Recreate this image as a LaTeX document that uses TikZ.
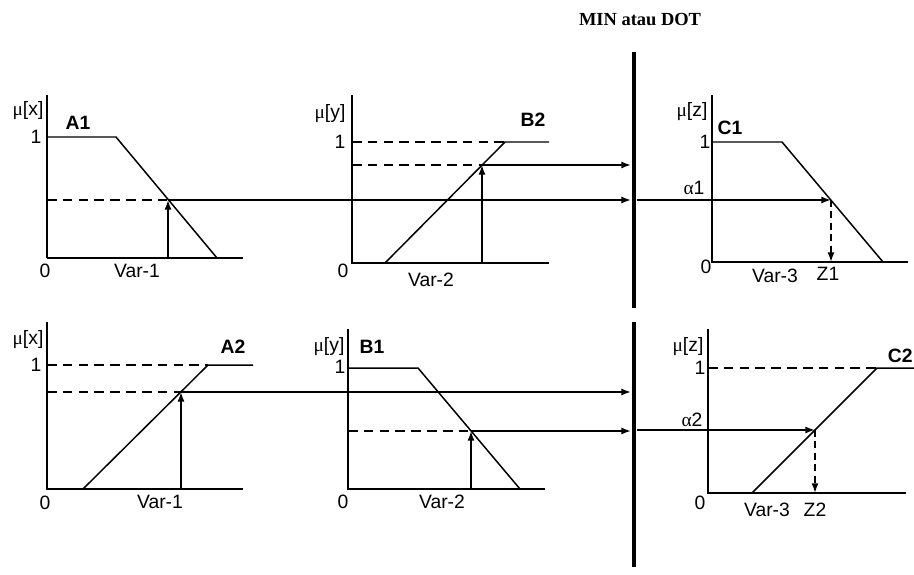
\documentclass[tikz,border=0pt]{standalone}
\usepackage{fontspec}
\setmainfont{Liberation Sans}
\newfontfamily\timesfont{Liberation Serif}
\usetikzlibrary{arrows.meta}

\tikzset{
  axis/.style={line width=0.85pt},
  curve/.style={line width=0.85pt, line join=miter},
  guide/.style={line width=0.85pt, dash pattern=on 5.5pt off 3.5pt},
  link/.style={line width=0.85pt, -{Latex[length=5.5pt,width=4pt]}},
  droplink/.style={link, dash pattern=on 4pt off 2.5pt},
  lbl/.style={inner sep=0pt, font=\fontsize{11}{13}\selectfont},
  setname/.style={inner sep=0pt, font=\fontsize{11}{13}\selectfont\bfseries},
}

\begin{document}
\begin{tikzpicture}[x=0.02cm, y=-0.02cm]
    \useasboundingbox (0,0) rectangle (914,575);

    \node[inner sep=0pt, font=\fontsize{10.5}{12}\timesfont\bfseries] (title) at (640,20) {MIN atau DOT};

    % separator bar
    \draw[line width=2.8pt] (634,52) -- (634,308) (634,322) -- (634,567);
    \coordinate (barA1) at (631,200);
    \coordinate (barB2) at (631,165);
    \coordinate (barC1) at (636.5,200);
    \coordinate (barA2) at (631,392);
    \coordinate (barB1) at (631,431);
    \coordinate (barC2) at (636.5,430);

    % ---- rule 1 ----
    % A1
    \draw[line width=1.6pt] (47,95) -- (47,258);
    \draw[axis] (47,258) -- (243,258);
    \draw[curve] (47,137) -- (116,137) -- (217,258);
    \coordinate (a1cut) at (168,200);
    \coordinate (a1base) at (168,258);
    \draw[guide] (47,200) -- (a1cut);
    \draw[link] (a1base) -- (a1cut);
    \draw[link] (a1cut) -- (barA1);
    \node[lbl] (mux1) at (28,111) {{\timesfont μ}[x]};
    \node[setname] (setA1) at (78,123) {A1};
    \node[lbl] (one1) at (36,137) {1};
    \node[lbl] (zero1) at (45,271) {0};
    \node[lbl] (var11) at (137,271) {Var-1};

    % B2
    \draw[axis] (352,95) -- (352,263) -- (549,263);
    \draw[curve] (385,263) -- (505,142) -- (549,142);
    \draw[guide] (352,142) -- (505,142);
    \coordinate (b2cut) at (482,165);
    \coordinate (b2base) at (482,263);
    \draw[guide] (352,165) -- (b2cut);
    \draw[link] (b2base) -- (b2cut);
    \draw[link] (b2cut) -- (barB2);
    \node[lbl] (muy1) at (330,114) {{\timesfont μ}[y]};
    \node[setname] (setB2) at (533,120) {B2};
    \node[lbl] (one2) at (340,142) {1};
    \node[lbl] (zero2) at (343,271) {0};
    \node[lbl] (var21) at (431,280) {Var-2};

    % C1
    \draw[axis] (712,95) -- (712,262) -- (908,262);
    \draw[curve] (712,142) -- (782,142) -- (883,262);
    \coordinate (c1cut) at (831,200);
    \coordinate (z1) at (831,262);
    \draw[link] (barC1) -- (c1cut);
    \draw[droplink] (c1cut) -- (z1);
    \node[lbl] (muz1) at (692,112) {{\timesfont μ}[z]};
    \node[setname] (setC1) at (730,128) {C1};
    \node[lbl] (one3) at (705,142) {1};
    \node[lbl] (alpha1) at (694,188) {{\timesfont α}1};
    \node[lbl] (zero3) at (706,267) {0};
    \node[lbl] (var31) at (775,276) {Var-3};
    \node[lbl] (labZ1) at (828,274) {Z1};

    % ---- rule 2 ----
    % A2
    \draw[axis] (47,322) -- (47,489) -- (243,489);
    \draw[curve] (83,489) -- (208,365) -- (253,365);
    \draw[guide] (47,365) -- (208,365);
    \coordinate (a2cut) at (181,392);
    \coordinate (a2base) at (181,489);
    \draw[guide] (47,392) -- (a2cut);
    \draw[link] (a2base) -- (a2cut);
    \draw[link] (a2cut) -- (barA2);
    \node[lbl] (mux2) at (28,340) {{\timesfont μ}[x]};
    \node[setname] (setA2) at (233,347) {A2};
    \node[lbl] (one4) at (36,365) {1};
    \node[lbl] (zero4) at (45,503) {0};
    \node[lbl] (var12) at (160,502) {Var-1};

    % B1
    \draw[axis] (348,329) -- (348,489) -- (545,489);
    \draw[curve] (348,368) -- (418,368) -- (520,489);
    \coordinate (b1cut) at (471,431);
    \coordinate (b1base) at (471,489);
    \draw[guide] (348,431) -- (b1cut);
    \draw[link] (b1base) -- (b1cut);
    \draw[link] (b1cut) -- (barB1);
    \node[lbl] (muy2) at (329,347) {{\timesfont μ}[y]};
    \node[setname] (setB1) at (372,347) {B1};
    \node[lbl] (one5) at (340,367) {1};
    \node[lbl] (zero5) at (343,502) {0};
    \node[lbl] (var22) at (442,502) {Var-2};

    % C2
    \draw[axis] (708,329) -- (708,493) -- (906,493);
    \draw[curve] (752,493) -- (877,368) -- (914,368);
    \draw[guide] (708,368) -- (877,368);
    \coordinate (c2cut) at (815,430);
    \coordinate (z2) at (815,493);
    \draw[link] (barC2) -- (c2cut);
    \draw[droplink] (c2cut) -- (z2);
    \node[lbl] (muz2) at (688,347) {{\timesfont μ}[z]};
    \node[setname, anchor=east] (setC2) at (913,356) {C2};
    \node[lbl] (one6) at (700,368) {1};
    \node[lbl] (alpha2) at (692,420) {{\timesfont α}2};
    \node[lbl] (zero6) at (700,503) {0};
    \node[lbl] (var32) at (767,510) {Var-3};
    \node[lbl] (labZ2) at (815,510) {Z2};
  \end{tikzpicture}
\end{document}
